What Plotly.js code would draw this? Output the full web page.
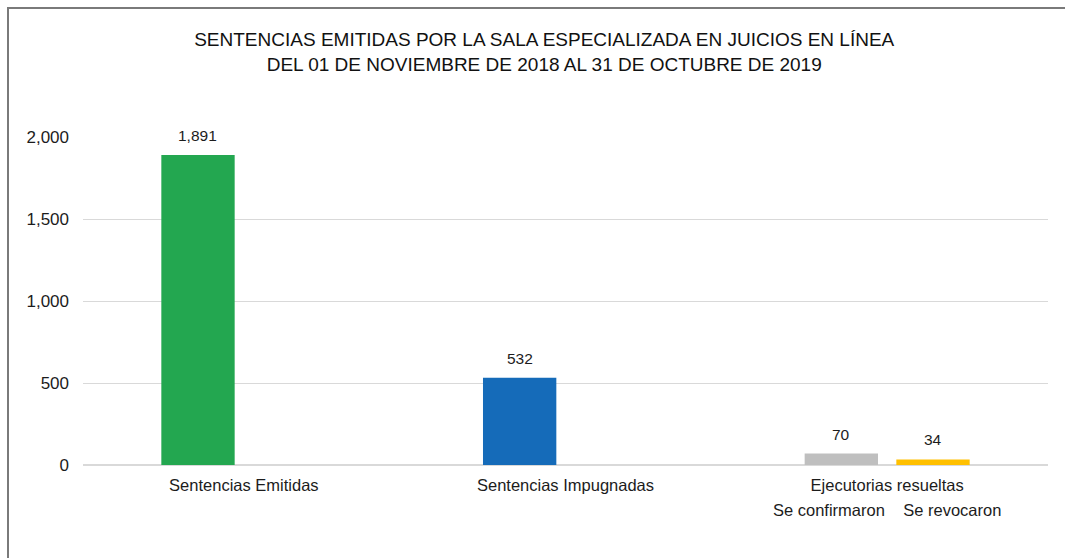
<!DOCTYPE html>
<html>
<head>
<meta charset="utf-8">
<script src="https://cdn.plot.ly/plotly-3.0.1.min.js"></script>
<style>
  html, body { margin: 0; padding: 0; background: #ffffff; width: 1065px; height: 558px; overflow: hidden; }
  #frame { position: absolute; left: 7px; top: 7px; width: 1100px; height: 600px; border: 2px solid #7a7a7a; box-sizing: border-box; }
  #chart { position: absolute; left: 0; top: 0; width: 1065px; height: 558px; }
</style>
</head>
<body>
<div id="frame"></div>
<div id="chart"></div>
<script>
// ---- data ----
const categories = ["Sentencias Emitidas", "Sentencias Impugnadas", "Ejecutorias resueltas"];
const mainValues = [1891, 532, 70];          // first bar in each group
const mainColors = ["#23a750", "#156bb9", "#bfbfbf"];
const secondValues = [null, null, 34];       // second bar (only Ejecutorias: se revocaron)
const secondColors = ["#ffc000", "#ffc000", "#ffc000"];
const subLabels = ["Se confirmaron", "Se revocaron"];
const yTickVals = [0, 500, 1000, 1500, 2000];
const titleLines = [
  "SENTENCIAS EMITIDAS POR LA SALA ESPECIALIZADA EN JUICIOS EN LÍNEA",
  "DEL 01 DE NOVIEMBRE DE 2018 AL 31 DE OCTUBRE DE 2019"
];

// ---- layout params ----
const W = 1065, H = 558;
const margin = {l: 83, r: 17, t: 137, b: 93, pad: 0};
const bargap = 0.43, bargroupgap = 0.2;
const txtColor = "#1c1c1c";
const fontFam = "Liberation Sans, Arial, sans-serif";

const plotW = W - margin.l - margin.r;
const catW = plotW / categories.length;
const slotPx = catW * (1 - bargap) / 2;
const shift = slotPx / 2;

const fmt = v => v.toLocaleString("en-US");

const traces = [
  {
    type: "bar", x: categories, y: mainValues,
    marker: {color: mainColors, line: {width: 0}},
    hoverinfo: "none", showlegend: false
  },
  {
    type: "bar", x: categories, y: secondValues,
    marker: {color: secondColors, line: {width: 0}},
    hoverinfo: "none", showlegend: false
  }
];

const annotations = [];
categories.forEach((c, i) => {
  if (mainValues[i] != null) annotations.push({
    x: c, y: mainValues[i], xref: "x", yref: "y", xshift: -shift, yshift: 9,
    yanchor: "bottom", text: fmt(mainValues[i]), showarrow: false,
    font: {size: 15.5, color: txtColor, family: fontFam}
  });
  if (secondValues[i] != null) annotations.push({
    x: c, y: secondValues[i], xref: "x", yref: "y", xshift: shift, yshift: 9,
    yanchor: "bottom", text: fmt(secondValues[i]), showarrow: false,
    font: {size: 15.5, color: txtColor, family: fontFam}
  });
});
annotations.push({
  x: categories[2], y: 0, xref: "x", yref: "y", yanchor: "top", yshift: -34,
  text: subLabels.join("\u00a0\u00a0\u00a0\u00a0"), showarrow: false,
  font: {size: 16.5, color: txtColor, family: fontFam}
});

const layout = {
  width: W, height: H,
  margin: margin,
  paper_bgcolor: "rgba(0,0,0,0)",
  plot_bgcolor: "rgba(0,0,0,0)",
  barmode: "group", bargap: bargap, bargroupgap: bargroupgap,
  font: {family: fontFam, color: txtColor},
  title: {
    text: titleLines.join("<br>"),
    x: 0.511, xref: "container", xanchor: "center",
    y: 1 - 46 / H, yref: "container", yanchor: "middle",
    font: {size: 19, color: "#111111", family: fontFam}
  },
  xaxis: {
    type: "category", showgrid: false, zeroline: false, showline: false,
    ticks: "", ticklabelstandoff: 8,
    tickfont: {size: 16.5, color: txtColor}, fixedrange: true
  },
  yaxis: {
    range: [0, 2000], tickvals: yTickVals, tickformat: ",",
    showgrid: true, gridcolor: "#d9d9d9", gridwidth: 1,
    zeroline: true, zerolinecolor: "#d9d9d9", zerolinewidth: 2,
    showline: false, ticks: "", ticklabelstandoff: 13,
    tickfont: {size: 17, color: txtColor}, fixedrange: true
  },
  annotations: annotations
};

Plotly.newPlot("chart", traces, layout, {displayModeBar: false, staticPlot: true});
</script>
</body>
</html>
